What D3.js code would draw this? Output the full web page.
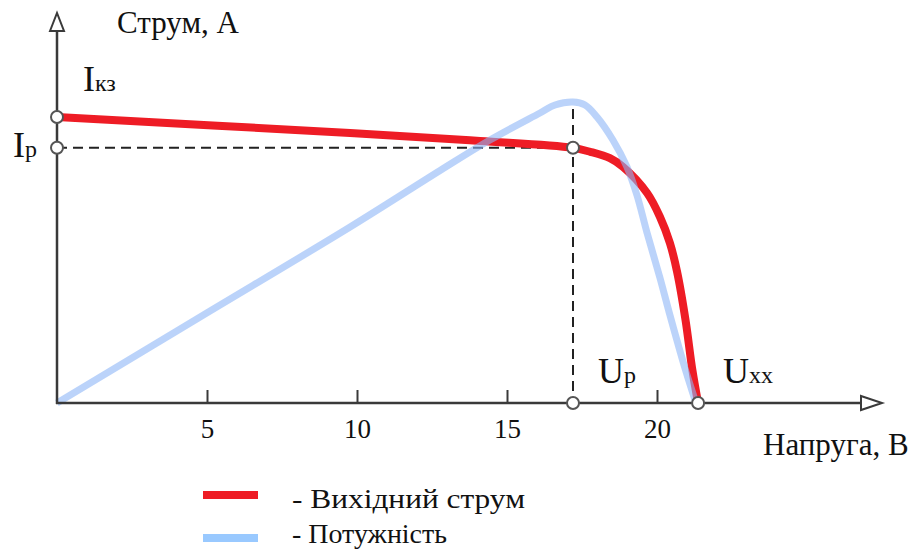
<!DOCTYPE html>
<html lang="uk">
  <head>
    <meta charset="utf-8">
    <title>ВАХ</title>
    <script src="https://d3js.org/d3.v7.js"></script>
    <style>
      body { margin: 0; background: #fff; }
      svg text { font-family: "Liberation Serif", Tinos, "Times New Roman", "DejaVu Serif", serif; fill: #111; }
    </style>
  </head>

  <body>
    <svg></svg>

  <script>

// data

  const voltageTicks = [5, 10, 15, 20];

  const currentV = [0, 9.77, 14.1, 17.17, 17.77, 18.43, 18.87, 19.67, 20.1, 20.43, 20.67, 20.95, 21.18, 21.37];
  const currentI = [3.575, 3.375, 3.275, 3.19, 3.14, 3.06, 2.95, 2.625, 2.325, 2.0, 1.64, 1.04, 0.41, 0];

  const powerV = [0, 4.77, 9.77, 12.77, 14.43, 16.1, 16.6, 17.2, 17.6, 18.0, 18.53, 19.0, 19.33, 19.67, 20.1, 20.43, 20.93, 21.3];
  const powerP = [0, 17.2, 35.2, 46.5, 52.6, 58, 59.6, 60.2, 59.6, 57.2, 52.6, 47.2, 41.6, 34, 25, 17.6, 7, 0];

  const Isc = 3.575, Ip = 3.19, Up = 17.2, Uxx = 21.37, Pmax = 60;

  const legendItems = [
    {label: "- Вихідний струм", color: "#ee1c25", width: 233},
    {label: "- Потужність", color: "#99c9ff", width: 155}
  ];

  const w = 915;
  const h = 549;

  const svg = d3.select("svg")
      .attr("width", w)
      .attr("height", h);

  const xScale = d3.scaleLinear()
      .domain([0, 27.5])
      .range([57, 882]);

  const yScale = d3.scaleLinear()
      .domain([0, 5])
      .range([403, 3]);

  const pScale = d3.scaleLinear()
      .domain([0, 80])
      .range([403, 3]);

  const axisColor = "#3a3a3a";

// dashed guides

  svg.append("line")
      .attr("x1", xScale(0)).attr("y1", yScale(Ip))
      .attr("x2", xScale(Up)).attr("y2", yScale(Ip))
      .attr("stroke", "#222")
      .attr("stroke-width", 2)
      .attr("stroke-dasharray", "10,6");

  svg.append("line")
      .attr("x1", xScale(Up)).attr("y1", pScale(Pmax) + 6)
      .attr("x2", xScale(Up)).attr("y2", yScale(0))
      .attr("stroke", "#222")
      .attr("stroke-width", 2)
      .attr("stroke-dasharray", "10,6");

// curves

  const currentLine = d3.line()
      .x(d => xScale(d[0]))
      .y(d => yScale(d[1]))
      .curve(d3.curveCatmullRom.alpha(0.5));

  const powerLine = d3.line()
      .x(d => xScale(d[0]))
      .y(d => pScale(d[1]))
      .curve(d3.curveCatmullRom.alpha(0.5));

  svg.append("path")
      .datum(d3.zip(currentV, currentI))
      .attr("d", currentLine)
      .attr("fill", "none")
      .attr("stroke", "#ee1c25")
      .attr("stroke-width", 8)
      .attr("stroke-linecap", "round");

  svg.append("path")
      .datum(d3.zip(powerV, powerP))
      .attr("d", powerLine)
      .attr("fill", "none")
      .attr("stroke", "#8db6f7")
      .attr("stroke-opacity", 0.6)
      .attr("stroke-width", 7);

// axes

  const xAxis = d3.axisBottom(xScale)
      .tickValues(voltageTicks)
      .tickSizeInner(-13)
      .tickSizeOuter(0)
      .tickPadding(16);

  const gx = svg.append("g")
      .attr("transform", `translate(0, ${yScale(0)})`)
      .call(xAxis)
      .attr("font-family", null);

  gx.select(".domain").remove();
  gx.selectAll(".tick line")
      .attr("stroke", axisColor)
      .attr("stroke-width", 2);
  gx.selectAll(".tick text")
      .attr("font-size", 27)
      .attr("fill", "#111");

  const x0 = xScale(0), y0 = yScale(0);
  const xEnd = xScale.range()[1], yEnd = 13;

  svg.append("line")
      .attr("x1", x0 - 1).attr("y1", y0)
      .attr("x2", xEnd - 20).attr("y2", y0)
      .attr("stroke", axisColor)
      .attr("stroke-width", 2.5);

  svg.append("line")
      .attr("x1", x0).attr("y1", y0 + 1)
      .attr("x2", x0).attr("y2", yEnd + 18)
      .attr("stroke", axisColor)
      .attr("stroke-width", 2.5);

  svg.append("path")
      .attr("d", `M${xEnd - 21},${y0 - 7} L${xEnd},${y0} L${xEnd - 21},${y0 + 7} Z`)
      .attr("fill", "#fff")
      .attr("stroke", axisColor)
      .attr("stroke-width", 2);

  svg.append("path")
      .attr("d", `M${x0 - 7},${yEnd + 18} L${x0},${yEnd} L${x0 + 7},${yEnd + 18} Z`)
      .attr("fill", "#fff")
      .attr("stroke", axisColor)
      .attr("stroke-width", 2);

// markers

  const markers = [[0, Isc], [0, Ip], [Up, Ip], [Up, 0], [Uxx, 0]];

  svg.selectAll("circle.mark")
      .data(markers)
      .enter().append("circle")
      .attr("class", "mark")
      .attr("cx", d => xScale(d[0]))
      .attr("cy", d => yScale(d[1]))
      .attr("r", 6)
      .attr("fill", "#fff")
      .attr("stroke", "#555")
      .attr("stroke-width", 2);

// labels

  svg.append("text")
      .attr("x", 117).attr("y", 33)
      .attr("font-size", 31)
      .text("Струм, А");

  svg.append("text")
      .attr("x", 763).attr("y", 455)
      .attr("font-size", 31)
      .text("Напруга, В");

  function subLabel(x, y, main, sub) {
    const t = svg.append("text")
        .attr("x", x).attr("y", y)
        .attr("font-size", 36);
    t.append("tspan").text(main);
    t.append("tspan").attr("font-size", 24).text(sub);
  }

  subLabel(83, 91, "I", "кз");
  subLabel(13, 157, "I", "p");
  subLabel(xScale(Up) + 25, 383, "U", "p");
  subLabel(xScale(Uxx) + 25, 383, "U", "xx");

// legend

  const legend = svg.append("g")
      .selectAll("g")
      .data(legendItems)
      .enter().append("g")
      .attr("transform", (d, i) => `translate(203, ${495 + i * 43})`);

  legend.append("line")
      .attr("x1", 0).attr("x2", 55)
      .attr("y1", 0).attr("y2", 0)
      .attr("stroke", d => d.color)
      .attr("stroke-width", 8);

  legend.append("text")
      .attr("x", 89)
      .attr("y", (d, i) => i === 0 ? 13 : 5)
      .attr("font-size", 27)
      .attr("textLength", d => d.width)
      .attr("lengthAdjust", "spacingAndGlyphs")
      .text(d => d.label);

    </script>

  </body>

</html>
